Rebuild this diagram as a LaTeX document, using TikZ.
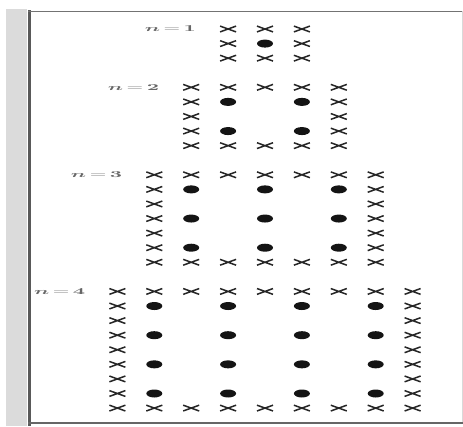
\documentclass[tikz,border=0pt]{standalone}
\usepackage{graphicx}
\usepackage{amsmath}
\begin{document}
\begin{tikzpicture}[x=1pt,y=-1pt,
  xline/.style={line width=1.5pt,draw=black!85},
  dotmark/.style={fill=black!92},
  lab/.style={anchor=east,text=black!60,font=\fontsize{9}{10}\selectfont,inner sep=0pt}]
\useasboundingbox (0,0) rectangle (463,426);
\fill[white] (0,0) rectangle (463,426);
\fill[black!14] (6,9) rectangle (27,426);
\draw[line width=3pt,black!65] (29.5,10) -- (29.5,426);
\draw[line width=1.8pt,black!55] (28,11.5) -- (463,11.5);
\draw[line width=2pt,black!60] (28,423) -- (463,423);
\draw[line width=1pt,black!15] (462,11) -- (462,422);
\foreach \n/\r in {1/0,2/4,3/10,4/18} {
  \pgfmathtruncatemacro\m{2*\n}
  \node[lab] (lab\n) at ({265-36.9*\n-32},{29+14.58*\r}) {\scalebox{2.3}[1]{$\boldsymbol{n}\mathbf{\,=\,}\mathbf{\n}$}};
  \foreach \k in {0,...,\m} {
    \foreach \j in {0,...,\m} {
      \pgfmathsetmacro\xx{265+36.9*(\k-\n)}
      \pgfmathsetmacro\yy{29+14.58*(\r+\j)}
      \pgfmathtruncatemacro\edge{(\k==0)||(\k==\m)||(\j==0)||(\j==\m)}
      \ifnum\edge=1
        \draw[xline] ({\xx-8},{\yy-2.9}) -- ({\xx+8},{\yy+2.9}) ({\xx-8},{\yy+2.9}) -- ({\xx+8},{\yy-2.9});
      \else
        \ifodd\k\ifodd\j
          \fill[dotmark] (\xx,\yy) ellipse [x radius=8pt,y radius=4pt];
        \fi\fi
      \fi
    }
  }
}
\end{tikzpicture}
\end{document}
